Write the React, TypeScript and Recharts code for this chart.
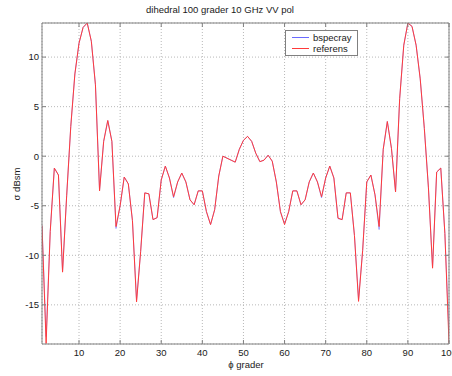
import React from "react";
import { LineChart, Line, XAxis, YAxis, CartesianGrid, Legend } from "recharts";

// aspect angle, degrees
const phi = [
  1, 2, 3, 4, 5, 6, 7, 8, 9, 10, 11, 12, 13, 14, 15, 16, 17, 18, 19, 20,
  21, 22, 23, 24, 25, 26, 27, 28, 29, 30, 31, 32, 33, 34, 35, 36, 37, 38, 39, 40,
  41, 42, 43, 44, 45, 46, 47, 48, 49, 50, 51, 52, 53, 54, 55, 56, 57, 58, 59, 60,
  61, 62, 63, 64, 65, 66, 67, 68, 69, 70, 71, 72, 73, 74, 75, 76, 77, 78, 79, 80,
  81, 82, 83, 84, 85, 86, 87, 88, 89, 90, 91, 92, 93, 94, 95, 96, 97, 98, 99, 100,
];

// RCS in dBsm
const bspecray = [
  -7.0, -18.2, -7.6, -1.2, -1.9, -11.6, -4.0, 3.0, 8.3, 11.4,
  13.0, 13.44, 11.6, 7.2, -3.4, 1.5, 3.6, 1.5, -7.3, -5.0,
  -2.1, -2.8, -6.5, -14.5, -9.6, -3.7, -3.8, -6.4, -6.2, -2.4,
  -1.0, -2.2, -4.2, -2.6, -1.7, -2.6, -4.4, -4.9, -3.5, -3.5,
  -5.6, -6.9, -5.4, -2.0, 0.0, -0.2, -0.4, -0.6, 0.7, 1.6,
  2.0, 1.5, 0.3, -0.55, -0.4, 0.1, -0.5, -2.6, -5.6, -6.8,
  -5.6, -3.5, -3.5, -4.9, -4.4, -2.6, -1.7, -2.6, -4.2, -2.2,
  -1.0, -2.2, -6.3, -6.4, -3.7, -3.7, -8.0, -14.4, -9.5, -2.6,
  -1.9, -3.9, -7.4, 0.7, 3.5, 0.8, -3.6, 5.8, 11.2, 13.44,
  13.1, 11.2, 7.8, 2.8, -3.2, -11.2, -1.6, -1.2, -7.8, -18.0,
];

const referens = [
  -7.0, -18.9, -7.6, -1.2, -1.9, -11.7, -4.0, 3.0, 8.3, 11.4,
  13.0, 13.44, 11.6, 7.2, -3.5, 1.5, 3.6, 1.5, -7.1, -5.0,
  -2.1, -2.8, -6.5, -14.7, -9.6, -3.7, -3.8, -6.4, -6.2, -2.4,
  -1.0, -2.2, -4.1, -2.6, -1.7, -2.6, -4.4, -4.9, -3.5, -3.5,
  -5.6, -6.9, -5.4, -2.0, 0.0, -0.2, -0.4, -0.6, 0.7, 1.6,
  2.0, 1.5, 0.3, -0.55, -0.4, 0.1, -0.5, -2.6, -5.6, -6.9,
  -5.6, -3.5, -3.5, -4.9, -4.4, -2.6, -1.7, -2.6, -4.1, -2.2,
  -1.0, -2.2, -6.25, -6.4, -3.7, -3.7, -8.0, -14.65, -9.5, -2.6,
  -1.9, -3.9, -7.1, 0.7, 3.5, 0.8, -3.6, 5.8, 11.2, 13.44,
  13.1, 11.2, 7.8, 2.8, -3.2, -11.3, -1.6, -1.2, -7.8, -18.9,
];

const xTicks = [10, 20, 30, 40, 50, 60, 70, 80, 90, 100];
const yTicks = [-15, -10, -5, 0, 5, 10];
const xDomain = [1, 100];
const yDomain = [-18.95, 13.44];

const data = phi.map((p, i) => ({
  phi: p,
  bspecray: bspecray[i],
  referens: referens[i],
}));

const FONT = '"Liberation Sans", Arial, Helvetica, sans-serif';
const AXIS = "#808080";
const TEXT = "#1a1a1a";
const TICK_LEN = 4;

// inward tick marks on all four sides, labels only bottom/left
function BottomTick(props: any) {
  const { x, y, payload } = props;
  return (
    <g>
      <line x1={x} y1={y} x2={x} y2={y - TICK_LEN} stroke={AXIS} />
      <text x={x} y={y + 11.5} textAnchor="middle" fontSize={9.5} fontFamily={FONT} fill={TEXT}>
        {payload.value}
      </text>
    </g>
  );
}

function TopTick(props: any) {
  const { x, y } = props;
  return <line x1={x} y1={y} x2={x} y2={y + TICK_LEN} stroke={AXIS} />;
}

function LeftTick(props: any) {
  const { x, y, payload } = props;
  return (
    <g>
      <line x1={x} y1={y} x2={x + TICK_LEN} y2={y} stroke={AXIS} />
      <text x={x - 3} y={y + 3.4} textAnchor="end" fontSize={9.5} fontFamily={FONT} fill={TEXT}>
        {payload.value}
      </text>
    </g>
  );
}

function RightTick(props: any) {
  const { x, y } = props;
  return <line x1={x} y1={y} x2={x - TICK_LEN} y2={y} stroke={AXIS} />;
}

function LegendBox(props: any) {
  const { payload } = props;
  return (
    <div
      style={{
        width: 71,
        border: `1px solid ${AXIS}`,
        background: "#fff",
        padding: "1px 0 1px 0",
        fontFamily: FONT,
        fontSize: 9.5,
        color: TEXT,
        lineHeight: "11px",
        textAlign: "left",
      }}
    >
      {(payload || []).map((item: any) => (
        <div key={item.value} style={{ display: "flex", alignItems: "center" }}>
          <svg width={27} height={11}>
            <line x1={6} y1={5.5} x2={23} y2={5.5} stroke={item.color} strokeWidth={1} />
          </svg>
          <span>{item.value}</span>
        </div>
      ))}
    </div>
  );
}

export default function App() {
  return (
    <div
      style={{
        position: "absolute",
        left: 0,
        top: 0,
        width: 452,
        height: 376,
        background: "#fff",
        overflow: "hidden",
      }}
    >
      <div
        style={{
          position: "absolute",
          left: 146,
          top: 4,
          fontFamily: FONT,
          fontSize: 9.5,
          color: TEXT,
          whiteSpace: "nowrap",
        }}
      >
        dihedral 100 grader 10 GHz VV pol
      </div>
      <LineChart
        width={452}
        height={376}
        data={data}
        margin={{ top: 22, right: 2, bottom: 2, left: 8 }}
      >
        <CartesianGrid stroke="#b8b8b8" strokeDasharray="1 2" />
        <XAxis
          dataKey="phi"
          type="number"
          domain={xDomain}
          ticks={xTicks}
          interval={0}
          allowDataOverflow
          height={30}
          stroke={AXIS}
          tickLine={false}
          tickSize={0}
          tickMargin={0}
          tick={<BottomTick />}
        />
        <XAxis
          xAxisId="top"
          orientation="top"
          dataKey="phi"
          type="number"
          domain={xDomain}
          ticks={xTicks}
          interval={0}
          allowDataOverflow
          height={1}
          stroke={AXIS}
          tickLine={false}
          tickSize={0}
          tickMargin={0}
          tick={<TopTick />}
        />
        <YAxis
          type="number"
          domain={yDomain}
          ticks={yTicks}
          interval={0}
          allowDataOverflow
          width={34}
          stroke={AXIS}
          tickLine={false}
          tickSize={0}
          tickMargin={0}
          tick={<LeftTick />}
        />
        <YAxis
          yAxisId="right"
          orientation="right"
          type="number"
          domain={yDomain}
          ticks={yTicks}
          interval={0}
          allowDataOverflow
          width={1}
          stroke={AXIS}
          tickLine={false}
          tickSize={0}
          tickMargin={0}
          tick={<RightTick />}
        />
        <Legend
          content={<LegendBox />}
          layout="horizontal"
          verticalAlign="middle"
          align="center"
          wrapperStyle={{ position: "absolute", top: 30, left: 285, width: "auto", height: "auto" }}
        />
        <Line
          dataKey="bspecray"
          name="bspecray"
          type="linear"
          stroke="#6a6aff"
          strokeWidth={0.6}
          dot={false}
          activeDot={false}
          isAnimationActive={false}
        />
        <Line
          dataKey="referens"
          name="referens"
          type="linear"
          stroke="#ff3a3a"
          strokeWidth={1}
          dot={false}
          activeDot={false}
          isAnimationActive={false}
        />
      </LineChart>
      <div
        style={{
          position: "absolute",
          left: 15.5,
          top: 184,
          transform: "translate(-50%, -50%) rotate(-90deg)",
          fontFamily: FONT,
          fontSize: 9.5,
          color: TEXT,
          whiteSpace: "nowrap",
        }}
      >
        σ dBsm
      </div>
      <div
        style={{
          position: "absolute",
          left: 246,
          top: 364,
          transform: "translate(-50%, -50%)",
          fontFamily: FONT,
          fontSize: 9.5,
          color: TEXT,
          whiteSpace: "nowrap",
        }}
      >
        ϕ grader
      </div>
    </div>
  );
}
